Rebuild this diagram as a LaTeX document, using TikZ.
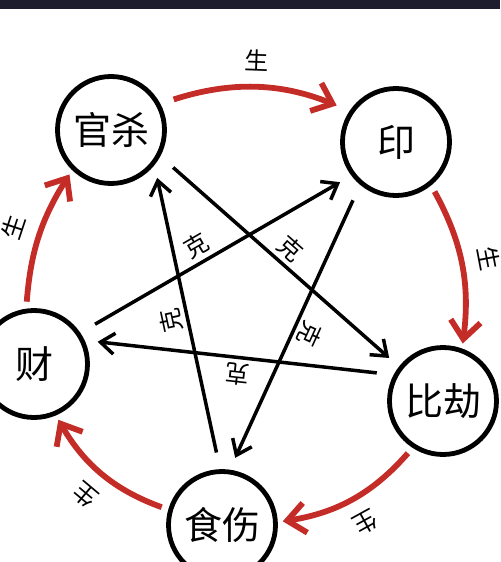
\documentclass[tikz,border=0pt]{standalone}
\usepackage{fontspec}
\newfontfamily\cjk{Noto Sans CJK SC}
\usetikzlibrary{arrows.meta}
\definecolor{shengred}{RGB}{196,44,40}
\definecolor{topbar}{RGB}{30,29,46}

\begin{document}
\begin{tikzpicture}[x=0.5pt, y=0.5pt]
    \tikzstyle{shishen}=[circle, draw=black, line width=2.4pt, minimum size=53.5pt, inner sep=0pt, font=\cjk\fontsize{19}{19}\selectfont]
    \tikzstyle{sheng}=[draw=shengred, line width=2.9pt, -{Straight Barb[length=9pt,width=15pt]}, bend left=20, shorten <=3.5pt, shorten >=2.5pt]
    \tikzstyle{ke}=[draw=black, line width=1.75pt, -{Straight Barb[length=7pt,width=10.5pt]}, shorten <=8.5pt, shorten >=6.5pt]
    \tikzstyle{rel label}=[sloped, allow upside down, midway, above=1pt, inner sep=1pt, text=black, font=\cjk\fontsize{12}{12}\selectfont]
    \tikzstyle{sheng label}=[rel label, above=5pt]
    \useasboundingbox (0,0) rectangle (500,-562);
    \fill[topbar] (0,0) rectangle (500,-8.5);
    % Draw the five circles
    \node[shishen] (guansha) at (111,-130) {官杀};
    \node[shishen] (yin) at (396,-142) {印};
    \node[shishen] (bijie) at (443,-401) {比劫};
    \node[shishen] (shishang) at (222,-525) {食伤};
    \node[shishen] (cai) at (34,-364) {财};
    % The outer ring
    \path (guansha.28) edge [sheng, shorten <=7pt, shorten >=7pt] node [sheng label] {生} (yin.146);
    \path (yin.-51) edge [sheng, bend left=18] node [sheng label, above=0.5pt] {生} (bijie.70);
    \path (bijie.237) edge [sheng] node [sheng label] {生} (shishang.3);
    \path (shishang.164) edge [sheng] node [sheng label] {生} (cai.-67);
    \path (cai.98) edge [sheng, bend left=14] node [sheng label] {生} (guansha.226);
    % The star inside
    \path (cai.34) edge [ke] node [rel label, pos=0.46] {克} (yin.217);
    \path (guansha.-28) edge [ke] node [rel label] {克} (bijie.142);
    \path (bijie.152) edge [ke] node [rel label] {克} (cai.25);
    \path (yin.230) edge [ke] node [rel label] {克} (shishang.82);
    \path (shishang.92) edge [ke] node [rel label] {克} (guansha.-39);
\end{tikzpicture}
\end{document}
